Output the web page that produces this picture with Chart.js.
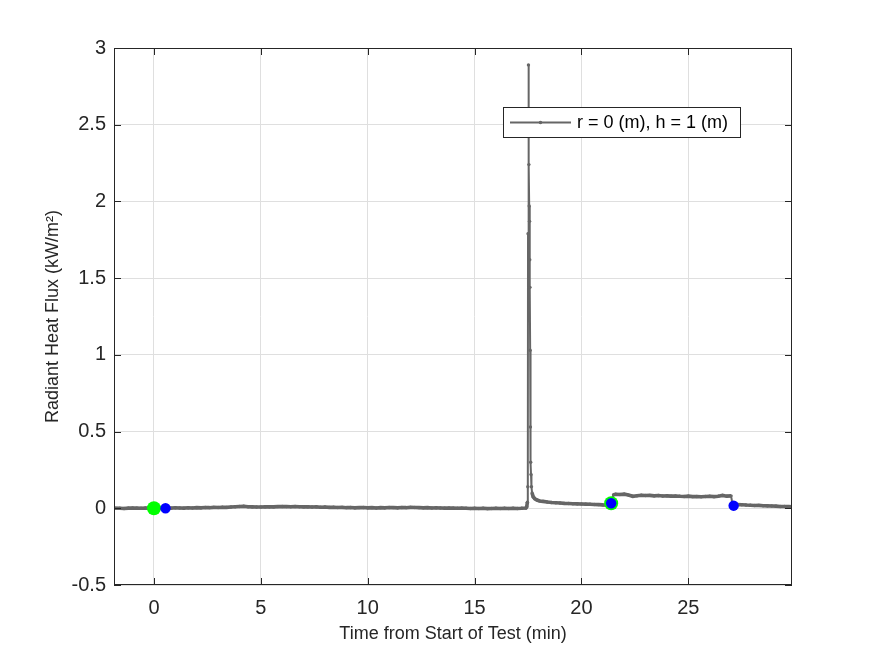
<!DOCTYPE html>
<html lang="en">
<head>
    <meta charset="UTF-8">
    <title>Radiant Heat Flux</title>
    <script src="https://cdn.jsdelivr.net/npm/chart.js"></script>
    <style>
        body {
            margin: 0;
            background-color: #fff;
        }
        canvas {
            display: block;
        }
    </style>
</head>
<body>
    <canvas id="myChart" width="875" height="656"></canvas>
    <script>
        // gauge reading, one sample about every 0.2 min (denser around the spike)
        const seriesLabel = 'r = 0 (m), h = 1 (m)';
        const times = [
            -1.87, -1.6, -1.4, -1.2, -1.0, -0.8, -0.6, -0.4, -0.2, 0.0,
            0.2, 0.4, 0.6, 0.8, 1.0, 1.2, 1.4, 1.6, 1.8, 2.0,
            2.2, 2.4, 2.6, 2.8, 3.0, 3.2, 3.4, 3.6, 3.8, 4.0,
            4.2, 4.4, 4.6, 4.8, 5.0, 5.2, 5.4, 5.6, 5.8, 6.0,
            6.2, 6.4, 6.6, 6.8, 7.0, 7.2, 7.4, 7.6, 7.8, 8.0,
            8.2, 8.4, 8.6, 8.8, 9.0, 9.2, 9.4, 9.6, 9.8, 10.0,
            10.2, 10.4, 10.6, 10.8, 11.0, 11.2, 11.4, 11.6, 11.8, 12.0,
            12.2, 12.4, 12.6, 12.8, 13.0, 13.2, 13.4, 13.6, 13.8, 14.0,
            14.2, 14.4, 14.6, 14.8, 15.0, 15.2, 15.4, 15.6, 15.8, 16.0,
            16.2, 16.4, 16.6, 16.8, 17.0, 17.2, 17.4,
            17.44, 17.47, 17.49, 17.50, 17.52, 17.54, 17.555, 17.57, 17.58, 17.59,
            17.60, 17.61, 17.625, 17.64, 17.66, 17.69, 17.74, 17.82, 17.92, 18.04,
            18.2, 18.4, 18.6, 18.8, 19.0, 19.2, 19.4, 19.6, 19.8, 20.0,
            20.2, 20.4, 20.6, 20.8, 21.0, 21.2, 21.39, 21.5,
            21.6, 21.8, 22.0, 22.2, 22.4, 22.6, 22.8, 23.0, 23.2, 23.4,
            23.6, 23.8, 24.0, 24.2, 24.4, 24.6, 24.8, 25.0, 25.2, 25.4,
            25.6, 25.8, 26.0, 26.2, 26.4, 26.6, 26.8, 27.0, 27.06, 27.12,
            27.3, 27.5, 27.7, 27.9, 28.1, 28.3, 28.5, 28.7, 28.9, 29.1,
            29.3, 29.5, 29.7, 29.85
        ];
        const flux = [
            0.001, 0.000, -0.001, 0.001, 0.002, 0.001, 0.000, 0.002, 0.001, 0.000,
            0.001, 0.000, 0.002, 0.001, 0.003, 0.002, 0.001, 0.003, 0.002, 0.004,
            0.003, 0.005, 0.004, 0.006, 0.005, 0.007, 0.006, 0.008, 0.010, 0.012,
            0.013, 0.010, 0.009, 0.008, 0.008, 0.009, 0.010, 0.009, 0.011, 0.012,
            0.011, 0.010, 0.012, 0.010, 0.009, 0.010, 0.008, 0.009, 0.007, 0.008,
            0.006, 0.007, 0.005, 0.006, 0.004, 0.005, 0.003, 0.004, 0.005, 0.003,
            0.004, 0.002, 0.004, 0.003, 0.005, 0.004, 0.003, 0.005, 0.004, 0.006,
            0.005, 0.004, 0.003, 0.004, 0.002, 0.003, 0.002, 0.001, 0.002, 0.001,
            0.000, 0.001, 0.000, -0.001, 0.000, -0.001, 0.000, -0.002, -0.001, 0.000,
            -0.001, 0.000, -0.001, 0.000, -0.001, 0.000, 0.002,
            0.01, 0.04, 0.14, 1.79, 2.89, 2.24, 1.97, 1.87, 1.62, 1.44,
            1.03, 0.53, 0.30, 0.22, 0.14, 0.10, 0.075, 0.062, 0.054, 0.048,
            0.045, 0.041, 0.038, 0.036, 0.034, 0.032, 0.031, 0.030, 0.029, 0.028,
            0.027, 0.026, 0.025, 0.024, 0.022, 0.021, 0.033, 0.088,
            0.091, 0.090, 0.092, 0.086, 0.078, 0.082, 0.085, 0.083, 0.084, 0.081,
            0.083, 0.080, 0.081, 0.079, 0.080, 0.078, 0.077, 0.079, 0.076, 0.077,
            0.075, 0.077, 0.078, 0.076, 0.079, 0.084, 0.079, 0.081, 0.030, 0.017,
            0.024, 0.023, 0.021, 0.020, 0.018, 0.019, 0.017, 0.016, 0.015, 0.014,
            0.012, 0.012, 0.011, 0.010
        ];

        // event markers (green = start, blue = end)
        const greenTimes = [0, 21.39];
        const greenFlux = [0, 0.033];
        const blueTimes = [0.54, 21.39, 27.12];
        const blueFlux = [0, 0.033, 0.017];

        const xTicks = [0, 5, 10, 15, 20, 25];
        const yTicks = [-0.5, 0, 0.5, 1, 1.5, 2, 2.5, 3];

        const FONT = "'Liberation Sans', Arial, Helvetica, sans-serif";
        const TEXT = '#262626';

        const toPoints = (xs, ys) => xs.map((t, i) => ({ x: t, y: ys[i] }));

        // MATLAB style box with inward ticks + legend in the upper right
        const boxPlugin = {
            id: 'box',
            afterDraw(chart) {
                const { ctx, chartArea: a, scales: { x, y } } = chart;
                ctx.save();
                ctx.strokeStyle = TEXT;
                ctx.lineWidth = 1;
                ctx.strokeRect(a.left + 0.5, a.top + 0.5, a.width - 1, a.height - 1);
                ctx.beginPath();
                xTicks.forEach(v => {
                    const px = Math.round(x.getPixelForValue(v)) + 0.5;
                    ctx.moveTo(px, a.bottom); ctx.lineTo(px, a.bottom - 7);
                    ctx.moveTo(px, a.top); ctx.lineTo(px, a.top + 7);
                });
                yTicks.forEach(v => {
                    const py = Math.round(y.getPixelForValue(v)) + 0.5;
                    ctx.moveTo(a.left, py); ctx.lineTo(a.left + 7, py);
                    ctx.moveTo(a.right, py); ctx.lineTo(a.right - 7, py);
                });
                ctx.stroke();

                // legend
                const lx = a.right - 289, ly = a.top + 59;
                ctx.fillStyle = '#fff';
                ctx.fillRect(lx, ly, 237, 30);
                ctx.strokeStyle = TEXT;
                ctx.strokeRect(lx + 0.5, ly + 0.5, 237, 30);
                ctx.strokeStyle = '#666666';
                ctx.lineWidth = 2;
                ctx.beginPath();
                ctx.moveTo(lx + 7, ly + 15.5);
                ctx.lineTo(lx + 68, ly + 15.5);
                ctx.stroke();
                ctx.fillStyle = '#666666';
                ctx.beginPath();
                ctx.arc(lx + 37.5, ly + 15.5, 1.8, 0, Math.PI * 2);
                ctx.fill();
                ctx.fillStyle = '#000';
                ctx.font = '18px ' + FONT;
                ctx.textBaseline = 'middle';
                ctx.fillText(seriesLabel, lx + 74, ly + 16);
                ctx.restore();
            }
        };

        const ctx = document.getElementById('myChart').getContext('2d');
        new Chart(ctx, {
            type: 'scatter',
            data: {
                datasets: [{
                    label: 'end',
                    data: toPoints(blueTimes, blueFlux),
                    pointRadius: 5.2,
                    pointBackgroundColor: '#0000ff',
                    pointBorderWidth: 0
                }, {
                    label: 'start',
                    data: toPoints(greenTimes, greenFlux),
                    pointRadius: 7,
                    pointBackgroundColor: '#00ff00',
                    pointBorderWidth: 0
                }, {
                    label: seriesLabel,
                    data: toPoints(times, flux),
                    showLine: true,
                    tension: 0,
                    borderColor: '#666666',
                    borderWidth: 2,
                    // the noisy, densely sampled flat parts read as a thicker band
                    segment: {
                        borderWidth: c => Math.abs(c.p1.y - c.p0.y) < 6 ? 3.6 : 2
                    },
                    pointRadius: 1.7,
                    pointBackgroundColor: '#666666',
                    pointBorderWidth: 0
                }]
            },
            options: {
                responsive: false,
                animation: false,
                layout: {
                    padding: { left: 0, top: 48, right: 83, bottom: 0 }
                },
                plugins: {
                    legend: { display: false },
                    tooltip: { enabled: false }
                },
                scales: {
                    x: {
                        type: 'linear',
                        min: -1.87,
                        max: 29.85,
                        afterBuildTicks: axis => { axis.ticks = xTicks.map(v => ({ value: v })); },
                        afterFit: axis => { axis.height = 71; },
                        grid: { color: '#dfdfdf', drawTicks: false },
                        border: { display: false },
                        ticks: {
                            padding: 11,
                            color: TEXT,
                            font: { family: FONT, size: 20 },
                            callback: v => String(v)
                        },
                        title: {
                            display: true,
                            text: 'Time from Start of Test (min)',
                            color: TEXT,
                            font: { family: FONT, size: 18 },
                            padding: { top: 0, bottom: 11 }
                        }
                    },
                    y: {
                        type: 'linear',
                        min: -0.5,
                        max: 3,
                        afterBuildTicks: axis => { axis.ticks = yTicks.map(v => ({ value: v })); },
                        afterFit: axis => { axis.width = 114; },
                        grid: { color: '#dfdfdf', drawTicks: false },
                        border: { display: false },
                        ticks: {
                            padding: 8,
                            color: TEXT,
                            font: { family: FONT, size: 20 },
                            callback: v => String(v)
                        },
                        title: {
                            display: true,
                            text: 'Radiant Heat Flux (kW/m\u00b2)',
                            color: TEXT,
                            font: { family: FONT, size: 18 },
                            padding: { top: 42, bottom: 0 }
                        }
                    }
                }
            },
            plugins: [boxPlugin]
        });
    </script>
</body>
</html>
